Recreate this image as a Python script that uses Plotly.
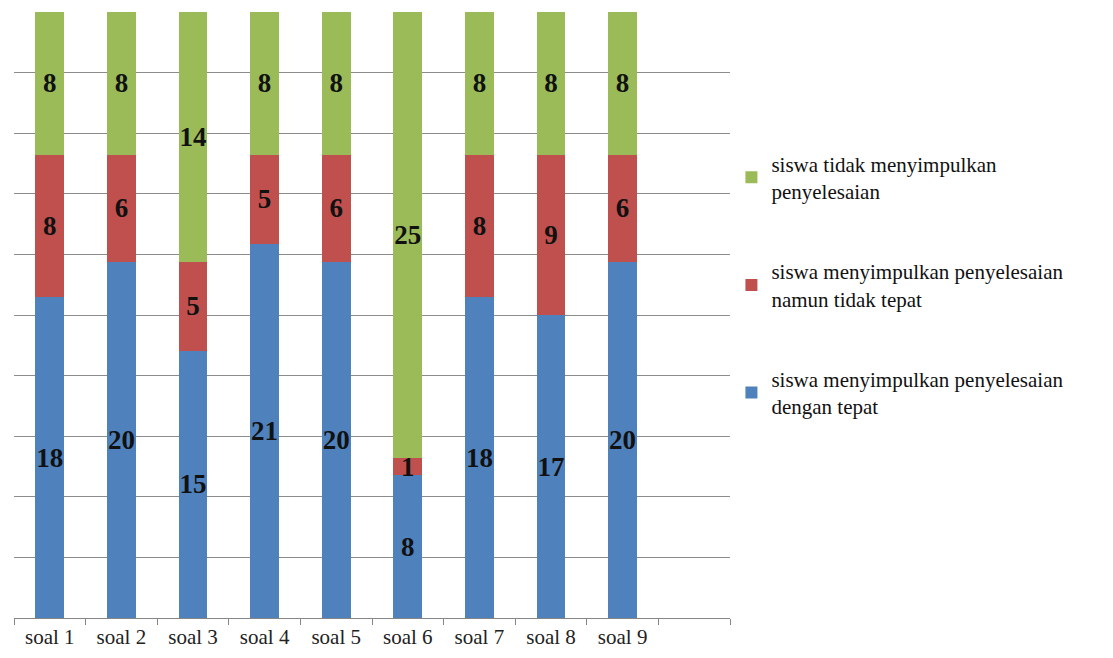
import plotly.graph_objects as go

# categories (last slot is empty in the original chart)
categories = ["soal 1", "soal 2", "soal 3", "soal 4", "soal 5",
              "soal 6", "soal 7", "soal 8", "soal 9", " "]

# series values
tepat = [18, 20, 15, 21, 20, 8, 18, 17, 20]
tidak_tepat = [8, 6, 5, 5, 6, 1, 8, 9, 6]
tidak_menyimpulkan = [8, 8, 14, 8, 8, 25, 8, 8, 8]

series_names = [
    "siswa menyimpulkan penyelesaian<br>dengan tepat",
    "siswa menyimpulkan penyelesaian<br>namun tidak tepat",
    "siswa tidak menyimpulkan<br>penyelesaian",
]
colors = ["#4F81BD", "#C0504D", "#9BBB59"]

serif = "Liberation Serif, Times New Roman, serif"

fig = go.Figure()

for i, (name, vals) in enumerate(zip(series_names, [tepat, tidak_tepat, tidak_menyimpulkan])):
    fig.add_trace(go.Bar(
        x=categories,
        y=vals + [None],
        name=name,
        legendgroup=str(i),
        legendrank=1000 - i,  # green on top, blue at the bottom
        marker=dict(color=colors[i], line=dict(width=0)),
        text=[str(v) for v in vals] + [""],
        textposition="inside",
        insidetextanchor="middle",
        textangle=0,
        textfont=dict(family=serif, size=27, color="#111111", weight="bold"),
        cliponaxis=False,
    ))

# page body has an 8px margin, so the figure is a bit smaller than the window
fig.update_layout(
    width=1105,
    height=650,
    barmode="stack",
    barnorm="percent",
    bargap=0.6,
    uniformtext=dict(minsize=27, mode="show"),
    plot_bgcolor="white",
    paper_bgcolor="white",
    margin=dict(l=6, r=383, t=4, b=40),
    showlegend=True,
    legend=dict(
        x=1.002,
        y=0.783,
        xanchor="left",
        yanchor="top",
        traceorder="grouped",
        tracegroupgap=50,
        font=dict(family=serif, size=21, color="#111111"),
        itemwidth=30,
    ),
    xaxis=dict(
        type="category",
        categoryorder="array",
        categoryarray=categories,
        range=[-0.5, 9.5],
        showline=True,
        linecolor="#868686",
        linewidth=1,
        ticks="outside",
        tickson="boundaries",
        ticklen=6,
        tickcolor="#868686",
        tickfont=dict(family=serif, size=21, color="#222222"),
        showgrid=False,
    ),
    yaxis=dict(
        range=[0, 100],
        dtick=10,
        showgrid=True,
        gridcolor="#8c8c8c",
        gridwidth=1,
        showticklabels=False,
        zeroline=False,
        showline=False,
    ),
)

fig.write_html("out.html")
